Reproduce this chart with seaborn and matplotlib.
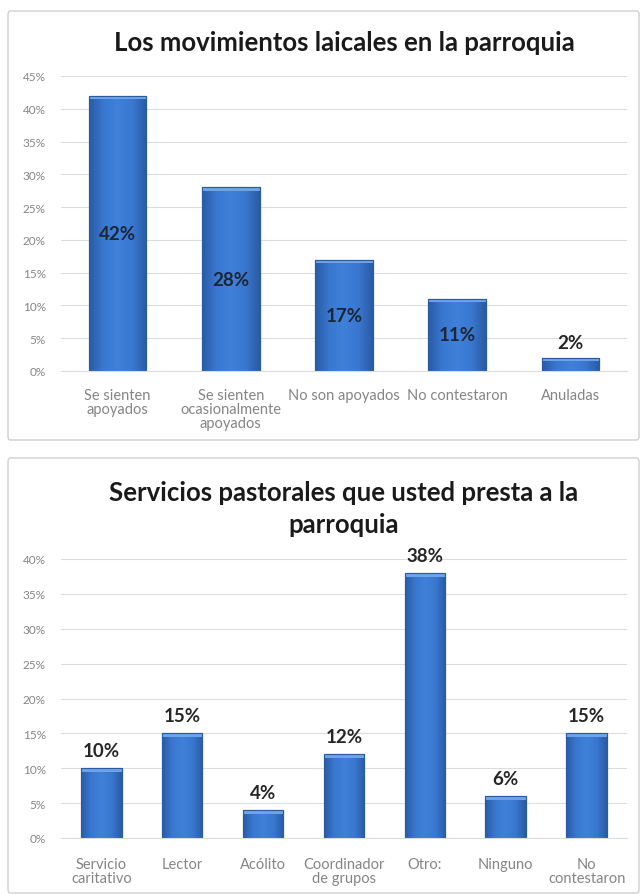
import matplotlib
matplotlib.use("Agg")
import matplotlib.pyplot as plt
import seaborn as sns
import pandas as pd
import numpy as np
from matplotlib.patches import FancyBboxPatch, Rectangle
from matplotlib.colors import LinearSegmentedColormap
from matplotlib.ticker import FuncFormatter

sns.set_style("white")
plt.rcParams['font.family'] = ['Lato', 'DejaVu Sans']

# Data
top_title = "Los movimientos laicales en la parroquia"
top_categories = ["Se sienten\napoyados", "Se sienten\nocasionalmente\napoyados",
                  "No son apoyados", "No contestaron", "Anuladas"]
top_values = [42, 28, 17, 11, 2]

bot_title = "Servicios pastorales que usted presta a la\nparroquia"
bot_categories = ["Servicio\ncaritativo", "Lector", "Acólito", "Coordinador\nde grupos",
                  "Otro:", "Ninguno", "No\ncontestaron"]
bot_values = [10, 15, 4, 12, 38, 6, 15]

BAR = "#3b7ad2"
EDGE = "#2a5aa0"
CAP = "#6ea3e8"
GRID = "#dcdcdc"
TICK = "#858585"

grad = LinearSegmentedColormap.from_list(
    "bar", ["#2a5ca6", "#3a78d0", "#3f80d8", "#3a78d0", "#2a5ca6"])

W, H = 643, 895
fig = plt.figure(figsize=(W / 100, H / 100), dpi=100)

# panel borders
for (x0, y0, x1, y1) in [(8, 12, 639, 441), (8, 459, 639, 894)]:
    fig.patches.append(FancyBboxPatch((x0 / W, 1 - y1 / H), (x1 - x0) / W, (y1 - y0) / H,
                                      boxstyle="round,pad=0,rounding_size=0.004",
                                      transform=fig.transFigure, fill=False,
                                      edgecolor="#d0d0d0", linewidth=1.0))

def style_axes(ax, ymax, ticks, xpad):
    ax.set_ylim(0, ymax)
    ax.set_yticks(ticks)
    ax.yaxis.set_major_formatter(FuncFormatter(lambda v, p: f"{int(v)}%"))
    ax.grid(axis="y", color=GRID, linewidth=0.8)
    ax.set_axisbelow(True)
    for s in ["top", "right", "left"]:
        ax.spines[s].set_visible(False)
    ax.spines["bottom"].set_color(GRID)
    ax.tick_params(axis="both", length=0, colors=TICK)
    ax.tick_params(axis="y", pad=11, labelsize=8.5)
    ax.tick_params(axis="x", pad=xpad, labelsize=10.5)
    for t in ax.get_xticklabels():
        t.set_linespacing(1.0)
    ax.set_xlabel("")
    ax.set_ylabel("")

def shade_bars(ax, cap_frac):
    ymax = ax.get_ylim()[1]
    g = np.linspace(0, 1, 64).reshape(1, -1)
    for p in list(ax.patches):
        x0, w, h = p.get_x(), p.get_width(), p.get_height()
        im = ax.imshow(g, cmap=grad, aspect="auto", extent=(x0, x0 + w, 0, h),
                       zorder=p.get_zorder() + 0.1, interpolation="bicubic")
        im.set_clip_path(p)
        cap = min(cap_frac * ymax, h * 0.5)
        ax.add_patch(Rectangle((x0, h - cap), w, cap, facecolor=CAP,
                               edgecolor="none", zorder=p.get_zorder() + 0.2))
        ax.add_patch(Rectangle((x0, 0), w, h, facecolor="none", edgecolor=EDGE,
                               linewidth=0.8, zorder=p.get_zorder() + 0.3))
    ax.set_xlim(-0.5, len(ax.get_xticks()) - 0.5)
    ax.set_ylim(0, ymax)

# Top chart
ax1 = fig.add_axes([61 / W, 1 - 372 / H, (627 - 61) / W, (372 - 77) / H])
df1 = pd.DataFrame({"cat": top_categories, "val": top_values})
sns.barplot(data=df1, x="cat", y="val", color=BAR, width=0.51, saturation=1,
            edgecolor=EDGE, linewidth=0.8, ax=ax1)
style_axes(ax1, 45, range(0, 46, 5), 12)
shade_bars(ax1, 0.012)
for i, v in enumerate(top_values):
    if v >= 5:
        ax1.text(i, v / 2, f"{v}%", ha="center", va="center", fontsize=13.5,
                 fontweight="bold", color="#1c2636", zorder=10)
    else:
        ax1.text(i, v + 1.0, f"{v}%", ha="center", va="bottom", fontsize=13.5,
                 fontweight="bold", color="#262626", zorder=10)
fig.text(0.5 * (61 + 627) / W, 1 - 43 / H, top_title, ha="center", va="center",
         fontsize=18.5, fontweight="bold", color="#1a1a1a")

# Bottom chart
ax2 = fig.add_axes([61 / W, 1 - 839 / H, (627 - 61) / W, (839 - 560) / H])
df2 = pd.DataFrame({"cat": bot_categories, "val": bot_values})
sns.barplot(data=df2, x="cat", y="val", color=BAR, width=0.5, saturation=1,
            edgecolor=EDGE, linewidth=0.8, ax=ax2)
style_axes(ax2, 40, range(0, 41, 5), 14)
shade_bars(ax2, 0.014)
for i, v in enumerate(bot_values):
    ax2.text(i, v + 1.3, f"{v}%", ha="center", va="bottom", fontsize=13.5,
             fontweight="bold", color="#262626", zorder=10)
fig.text(0.5 * (61 + 627) / W, 1 - 509 / H, bot_title, ha="center", va="center",
         fontsize=18.5, fontweight="bold", color="#1a1a1a", linespacing=1.4)

fig.savefig("out.png", dpi=100)
